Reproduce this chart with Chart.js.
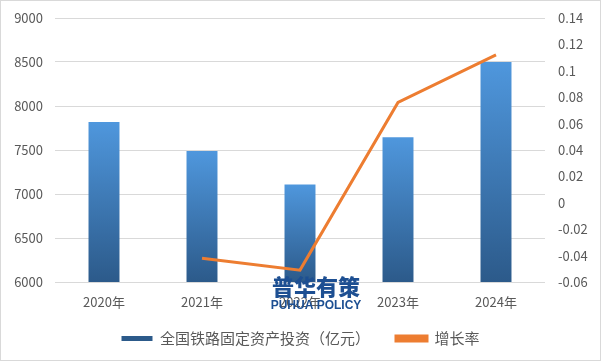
<!DOCTYPE html>
<html>
<head>
<meta charset="utf-8">
<script src="https://cdn.jsdelivr.net/npm/chart.js@4/dist/chart.umd.min.js"></script>
<style>
  html, body { margin: 0; padding: 0; background: #fff; }
  #wrap { width: 601px; height: 361px; box-sizing: border-box; border: 1px solid #d9d9d9; }
  #wrap canvas { display: block; }
</style>
</head>
<body>
<div id="wrap"><canvas id="chart" width="599" height="359"></canvas></div>
<script>
// Data
const years = ['2020年', '2021年', '2022年', '2023年', '2024年'];
const investment = [7819, 7489, 7109, 7645, 8500];
const growthRate = [null, -0.042, -0.051, 0.076, 0.112];
const leftTicks = [6000, 6500, 7000, 7500, 8000, 8500, 9000];
const rightTicks = ['-0.06', '-0.04', '-0.02', '0', '0.02', '0.04', '0.06', '0.08', '0.1', '0.12', '0.14'];

const FONT = "'Noto Sans CJK SC', 'Noto Sans', sans-serif";

// per-bar vertical gradient, lighter on top
function barFill(ctx) {
  if (ctx.type !== 'data') return '#3d7cc0';
  const chart = ctx.chart;
  const y = chart.scales.y;
  if (!y || !chart.chartArea) return '#3d7cc0';
  const top = y.getPixelForValue(ctx.raw);
  const bottom = y.getPixelForValue(y.min);
  const g = chart.ctx.createLinearGradient(0, top, 0, bottom);
  g.addColorStop(0, '#4f97dd');
  g.addColorStop(1, '#2c5a8a');
  return g;
}

// x labels hang a bit below the (squeezed) axis box, so widen its clip
const xLabelRoom = {
  id: 'xLabelRoom',
  afterLayout(chart) {
    chart.scales.x.bottom = chart.scales.x.top + 40;
  }
};

const watermark = {
  id: 'watermark',
  afterDraw(chart) {
    const c = chart.ctx;
    c.save();
    c.fillStyle = '#1d4f92';
    c.textAlign = 'center';
    c.textBaseline = 'middle';
    c.font = "900 22px 'Noto Sans CJK SC'";
    c.fillText('普华有策', 315, 286);
    c.font = "bold 12px 'Liberation Sans', sans-serif";
    c.fillText('PUHUA POLICY', 315, 305);
    c.restore();
  }
};

new Chart(document.getElementById('chart').getContext('2d'), {
  data: {
    labels: years,
    datasets: [{
      type: 'line',
      label: '增长率',
      data: growthRate,
      yAxisID: 'y1',
      borderColor: '#ed7d31',
      backgroundColor: '#ed7d31',
      borderWidth: 3,
      pointRadius: 0,
      tension: 0,
      order: 0
    }, {
      type: 'bar',
      label: '全国铁路固定资产投资（亿元）',
      data: investment,
      yAxisID: 'y',
      backgroundColor: barFill,
      borderWidth: 0,
      categoryPercentage: 1,
      barPercentage: 0.316,
      order: 1
    }]
  },
  options: {
    responsive: false,
    animation: false,
    layout: { padding: { top: 17, bottom: 4, left: 0, right: 0 } },
    plugins: {
      tooltip: { enabled: false },
      legend: {
        position: 'bottom',
        reverse: true,
        labels: {
          boxWidth: 31,
          boxHeight: 5,
          padding: 26,
          color: '#595959',
          font: { family: FONT, size: 15 }
        }
      }
    },
    scales: {
      x: {
        grid: { display: false },
        border: { display: false },
        ticks: { color: '#595959', padding: 4, font: { family: FONT, size: 13 } },
        afterFit: s => { s.height = 23; }
      },
      y: {
        position: 'left',
        min: 6000,
        max: 9000,
        afterBuildTicks: s => { s.ticks = leftTicks.map(v => ({ value: v })); },
        grid: { color: '#d9d9d9', drawTicks: false },
        border: { display: false },
        ticks: { color: '#595959', padding: 12, font: { family: FONT, size: 13 }, callback: v => String(v) },
        afterFit: s => { s.width = 54; s.paddingTop = 0; s.paddingBottom = 0; }
      },
      y1: {
        position: 'right',
        min: -0.06,
        max: 0.14,
        afterBuildTicks: s => { s.ticks = rightTicks.map(t => ({ value: Number(t) })); },
        grid: { display: false, drawTicks: false },
        border: { display: false },
        ticks: {
          color: '#595959', padding: 13, font: { family: FONT, size: 13 },
          callback: (v, i) => rightTicks[i]
        },
        afterFit: s => { s.width = 55; s.paddingTop = 0; s.paddingBottom = 0; }
      }
    }
  },
  plugins: [xLabelRoom, watermark]
});
</script>
</body>
</html>
